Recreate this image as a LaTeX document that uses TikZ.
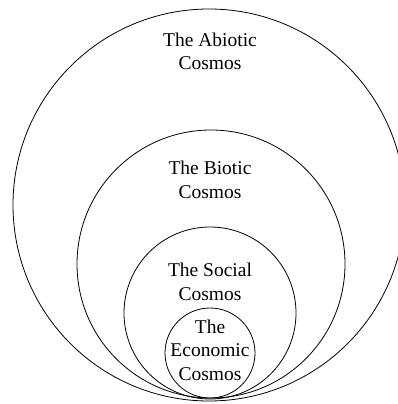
\documentclass[tikz,border=0pt]{standalone}
\usepackage{fontspec}
\setmainfont{Liberation Serif}
\usepackage{tikz}

\begin{document}
\begin{tikzpicture}[x=1pt,y=-1pt]
	\tikzset{ring/.style={line width=0.8pt},
		label/.style={align=center,anchor=base,inner sep=0pt,
			font=\fontsize{19.5}{23.5}\selectfont}}
	\useasboundingbox (0,0) rectangle (398,404);
	
	% centres of the four spheres
	\coordinate (abiotic) at (209,205);
	\coordinate (biotic) at (211,264);
	\coordinate (social) at (210,313);
	\coordinate (economic) at (210,353);
	
	\begin{scope}
		\clip (0,0) rectangle (398,404);
		\draw[ring] (abiotic) circle (196);
		\draw[ring] (biotic) circle (134);
		\draw[ring] (social) circle (86);
		\draw[ring] (economic) circle (45);
	\end{scope}
	
	% base anchor sits on the last line
	\node[label] (tabiotic) at (210,70) {The Abiotic\\Cosmos};
	\node[label] (tbiotic) at (210,198) {The Biotic\\Cosmos};
	\node[label] (tsocial) at (210,300) {The Social\\Cosmos};
	\node[label] (teconomic) at (210,380) {The\\Economic\\Cosmos};
	
\end{tikzpicture}
\end{document}
